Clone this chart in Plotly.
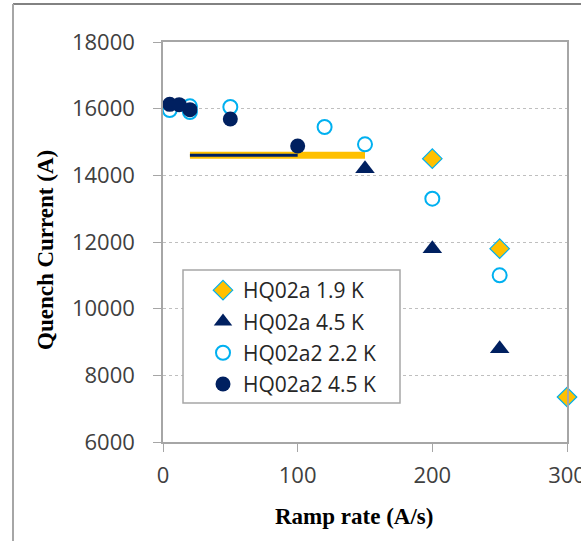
import plotly.graph_objects as go

# ---- data ----
a19_x = [200, 250, 300]
a19_y = [14500, 11800, 7350]

a45_x = [150, 200, 250]
a45_y = [14200, 11800, 8800]

a2_22_x = [5, 20, 20, 50, 120, 150, 200, 250]
a2_22_y = [15960, 16070, 15900, 16050, 15450, 14930, 13300, 11000]

a2_45_x = [5, 12, 20, 50, 100]
a2_45_y = [16130, 16120, 15970, 15690, 14880]

gold_line_x = [20, 150]
gold_line_y = [14600, 14600]
navy_line_x = [20, 100]
navy_line_y = [14600, 14600]

x_ticks = [0, 100, 200, 300]
y_ticks = [6000, 8000, 10000, 12000, 14000, 16000, 18000]
x_tick_text = [str(v) for v in x_ticks]
y_tick_text = [str(v) for v in y_ticks]

GOLD = "#FFC000"
NAVY = "#002060"
LBLUE = "#00B0F0"

fig = go.Figure()

fig.add_trace(go.Scatter(x=gold_line_x, y=gold_line_y, mode="lines",
                         line=dict(color=GOLD, width=7), showlegend=False,
                         hoverinfo="skip"))
fig.add_trace(go.Scatter(x=navy_line_x, y=navy_line_y, mode="lines",
                         line=dict(color=NAVY, width=3), showlegend=False,
                         hoverinfo="skip"))

fig.add_trace(go.Scatter(x=a19_x, y=a19_y, mode="markers", name="HQ02a 1.9 K",
                         legendgroup="g1", cliponaxis=False,
                         marker=dict(symbol="diamond", size=15, color=GOLD,
                                     line=dict(color=LBLUE, width=1.2))))
fig.add_trace(go.Scatter(x=a45_x, y=a45_y, mode="markers", name="HQ02a 4.5 K",
                         legendgroup="g2", cliponaxis=False,
                         marker=dict(symbol="triangle-up", size=17, color=NAVY,
                                     line=dict(color=NAVY, width=0))))
fig.add_trace(go.Scatter(x=a2_22_x, y=a2_22_y, mode="markers", name="HQ02a2 2.2 K",
                         legendgroup="g3", cliponaxis=False,
                         marker=dict(symbol="circle", size=14, color="white",
                                     line=dict(color=LBLUE, width=2))))
fig.add_trace(go.Scatter(x=a2_45_x, y=a2_45_y, mode="markers", name="HQ02a2 4.5 K",
                         legendgroup="g4", cliponaxis=False,
                         marker=dict(symbol="circle", size=15, color=NAVY,
                                     line=dict(color=NAVY, width=0))))

tickfont = dict(family="Open Sans", size=22, color="#404040")
title_font = dict(family="Liberation Serif", size=23, color="black")

# plot area in px: x 163..567, y 42..442
def px_x(p):
    return (p - 163) / 404.0

def px_y(p):
    return (442 - p) / 400.0

fig.update_layout(
    width=581, height=541,
    margin=dict(l=163, r=14, t=42, b=99, autoexpand=False),
    paper_bgcolor="white", plot_bgcolor="white",
    showlegend=True,
    legend=dict(x=px_x(203), y=px_y(270), xanchor="left", yanchor="top",
                bgcolor="rgba(0,0,0,0)", borderwidth=0,
                font=dict(family="Open Sans", size=21, color="#262626"),
                traceorder="grouped", tracegroupgap=1, itemsizing="trace"),
    xaxis=dict(range=[0, 300], tickvals=x_ticks, ticktext=x_tick_text,
               ticks="outside", ticklen=8,
               tickcolor="#A6A6A6", showgrid=False, zeroline=False,
               showline=True, linecolor="#A6A6A6", linewidth=1.5, mirror=True,
               tickfont=tickfont, ticklabelstandoff=5, automargin=False,
               ticklabeloverflow="allow"),
    yaxis=dict(range=[6000, 18000], tickvals=y_ticks, ticktext=y_tick_text,
               ticks="outside", ticklen=8,
               tickcolor="#A6A6A6", showgrid=True, gridcolor="#BFBFBF",
               griddash="3px,3px", gridwidth=1, zeroline=False,
               showline=True, linecolor="#A6A6A6", linewidth=1.5, mirror=True,
               tickfont=tickfont, ticklabelstandoff=14, automargin=False,
               ticklabeloverflow="allow"),
    annotations=[
        dict(text="<b>Ramp rate (A/s)</b>", xref="paper", yref="paper",
             x=px_x(354), y=px_y(516), showarrow=False, font=title_font,
             xanchor="center", yanchor="middle"),
        dict(text="<b>Quench Current (A)</b>", xref="paper", yref="paper",
             x=px_x(45), y=px_y(250), showarrow=False, font=title_font,
             textangle=-90, xanchor="center", yanchor="middle"),
    ],
    shapes=[
        dict(type="rect", xref="paper", yref="paper",
             x0=px_x(183), x1=px_x(400), y0=px_y(403), y1=px_y(270),
             fillcolor="white", line=dict(color="#A6A6A6", width=1.5),
             layer="above"),
        dict(type="line", xref="paper", yref="paper", x0=px_x(13), x1=px_x(600),
             y0=px_y(4), y1=px_y(4), line=dict(color="#595959", width=1.5)),
        dict(type="line", xref="paper", yref="paper", x0=px_x(13), x1=px_x(13),
             y0=px_y(4), y1=px_y(560), line=dict(color="#A6A6A6", width=2)),
    ],
)

fig.write_html("out.html",
               config={"displayModeBar": False},
               post_script="document.body.style.margin='0';"
                           "document.body.style.padding='0';"
                           "document.body.style.overflow='hidden';")
